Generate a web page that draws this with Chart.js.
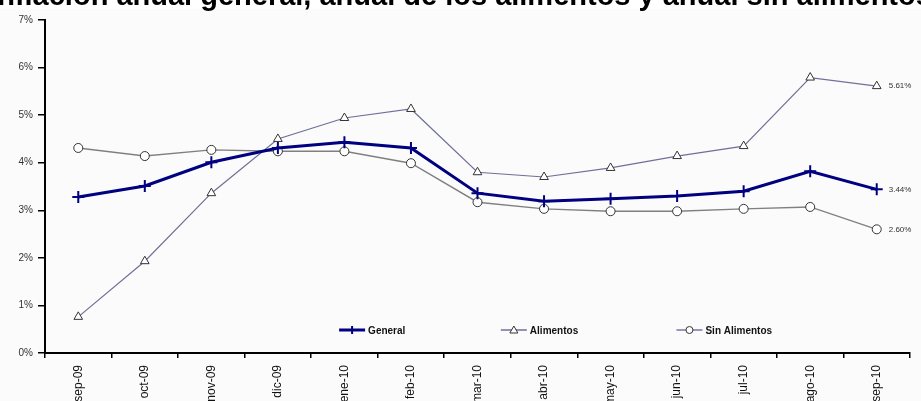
<!DOCTYPE html>
<html>
<head>
<meta charset="utf-8">
<script src="https://cdn.jsdelivr.net/npm/chart.js@4.4.1/dist/chart.umd.min.js"></script>
<style>
  html, body { margin: 0; padding: 0; background: #ffffff; overflow: hidden; }
  #wrap { position: relative; width: 921px; height: 401px; overflow: hidden;
          background: linear-gradient(#ffffff 0 9px, #fbfbfb 9px); }
  #title { position: absolute; top: -19px; left: 50%; width: max-content;
           transform: translateX(-50%);
           white-space: nowrap; font: bold 29px "Liberation Sans", Arial, sans-serif;
           line-height: 29px; color: #000; }
  canvas { position: absolute; left: 0; top: 0; }
</style>
</head>
<body>
<div id="wrap">
  <canvas id="c" width="921" height="401"></canvas>
  <div id="title">Inflación anual general, anual de los alimentos y anual sin alimentos</div>
</div>
<script>
// Months on the horizontal axis
const months = ['sep-09','oct-09','nov-09','dic-09','ene-10','feb-10','mar-10',
                'abr-10','may-10','jun-10','jul-10','ago-10','sep-10'];

// Annual inflation rates, in percent
const general      = [3.28, 3.51, 4.01, 4.31, 4.43, 4.31, 3.36, 3.19, 3.24, 3.30, 3.40, 3.82, 3.44];
const alimentos    = [0.76, 1.93, 3.36, 4.50, 4.94, 5.13, 3.80, 3.70, 3.89, 4.14, 4.35, 5.79, 5.61];
const sinAlimentos = [4.31, 4.14, 4.27, 4.24, 4.24, 3.99, 3.17, 3.03, 2.98, 2.98, 3.03, 3.07, 2.60];

// Y axis ticks, in percent
const yTicks = [0, 1, 2, 3, 4, 5, 6, 7];

const seriesNames = ['General', 'Alimentos', 'Sin Alimentos'];

// Value labels next to the last point of each series
const endLabels = {
  id: 'endLabels',
  afterDatasetsDraw(chart) {
    const ctx = chart.ctx;
    ctx.save();
    ctx.font = '8px "Liberation Sans", Arial, sans-serif';
    ctx.fillStyle = '#333';
    ctx.textBaseline = 'middle';
    chart.data.datasets.forEach((ds, i) => {
      const meta = chart.getDatasetMeta(i);
      const last = meta.data[meta.data.length - 1];
      const v = ds.data[ds.data.length - 1];
      ctx.fillText(v.toFixed(2) + '%', last.x + 12, last.y);
    });
    ctx.restore();
  }
};

// Legend drawn inside the plot area, near the bottom
const innerLegend = {
  id: 'innerLegend',
  afterDatasetsDraw(chart) {
    const ctx = chart.ctx;
    const a = chart.chartArea;
    const y = a.bottom - 23;
    const xs = [a.left + 0.34 * (a.right - a.left), a.left + 0.527 * (a.right - a.left), a.left + 0.73 * (a.right - a.left)];
    ctx.save();
    chart.data.datasets.forEach((ds, i) => {
      const x0 = xs[i];
      const len = 26;
      ctx.strokeStyle = i === 2 ? '#7777aa' : ds.borderColor;
      ctx.lineWidth = i === 0 ? 3 : 1.5;
      ctx.beginPath(); ctx.moveTo(x0, y); ctx.lineTo(x0 + len, y); ctx.stroke();
      const mx = x0 + len / 2;
      ctx.lineWidth = i === 0 ? 2 : 1;
      ctx.strokeStyle = ds.pointBorderColor;
      ctx.fillStyle = '#ffffff';
      if (i === 0) {
        ctx.beginPath();
        ctx.moveTo(mx - 4, y); ctx.lineTo(mx + 4, y);
        ctx.moveTo(mx, y - 4); ctx.lineTo(mx, y + 4);
        ctx.stroke();
      } else if (i === 1) {
        ctx.beginPath();
        ctx.moveTo(mx, y - 4); ctx.lineTo(mx + 4, y + 3); ctx.lineTo(mx - 4, y + 3); ctx.closePath();
        ctx.fill(); ctx.stroke();
      } else {
        ctx.beginPath(); ctx.arc(mx, y, 3.5, 0, Math.PI * 2); ctx.fill(); ctx.stroke();
      }
      ctx.font = 'bold 10px "Liberation Sans", Arial, sans-serif';
      ctx.fillStyle = '#111';
      ctx.textBaseline = 'middle';
      ctx.fillText(seriesNames[i], x0 + len + 3, y + 1);
    });
    ctx.restore();
  }
};

new Chart(document.getElementById('c'), {
  type: 'line',
  data: {
    labels: months,
    datasets: [
      {
        label: seriesNames[0], data: general,
        borderColor: '#000080', borderWidth: 3,
        pointStyle: 'cross', pointRadius: 6, pointBorderWidth: 2,
        pointBorderColor: '#000080', pointBackgroundColor: '#000080', tension: 0
      },
      {
        label: seriesNames[1], data: alimentos,
        borderColor: '#6f6f99', borderWidth: 1.2,
        pointStyle: 'triangle', pointRadius: 5, pointBorderWidth: 1,
        pointBorderColor: '#333333', pointBackgroundColor: '#ffffff', tension: 0
      },
      {
        label: seriesNames[2], data: sinAlimentos,
        borderColor: '#808080', borderWidth: 1.4,
        pointStyle: 'circle', pointRadius: 4.5, pointBorderWidth: 1,
        pointBorderColor: '#333333', pointBackgroundColor: '#ffffff', tension: 0
      }
    ]
  },
  options: {
    responsive: false,
    animation: false,
    layout: { padding: { left: 0, right: 11, top: 20, bottom: 0 } },
    plugins: {
      legend: { display: false },
      title: { display: false },
      tooltip: { enabled: false }
    },
    scales: {
      x: {
        offset: true,
        grid: { display: true, drawOnChartArea: false, drawTicks: true, tickLength: 5, color: '#000', lineWidth: 1.5, offset: true },
        border: { display: true, color: '#000', width: 2 },
        ticks: { autoSkip: false, minRotation: 90, maxRotation: 90, padding: 7,
                 color: '#111', font: { size: 12, family: '"Liberation Sans", Arial, sans-serif' } },
        afterFit(scale) { scale.height = 48; }
      },
      y: {
        min: 0, max: 7,
        afterBuildTicks(scale) { scale.ticks = yTicks.map(v => ({ value: v })); },
        grid: { display: true, drawOnChartArea: false, drawTicks: true, tickLength: 7, color: '#000', lineWidth: 1.5 },
        border: { display: true, color: '#000', width: 2 },
        ticks: { padding: 5, color: '#333', font: { size: 10, family: '"Liberation Sans", Arial, sans-serif' },
                 callback: v => v + '%' },
        afterFit(scale) { scale.width = 45; }
      }
    }
  },
  plugins: [endLabels, innerLegend]
});
</script>
</body>
</html>
